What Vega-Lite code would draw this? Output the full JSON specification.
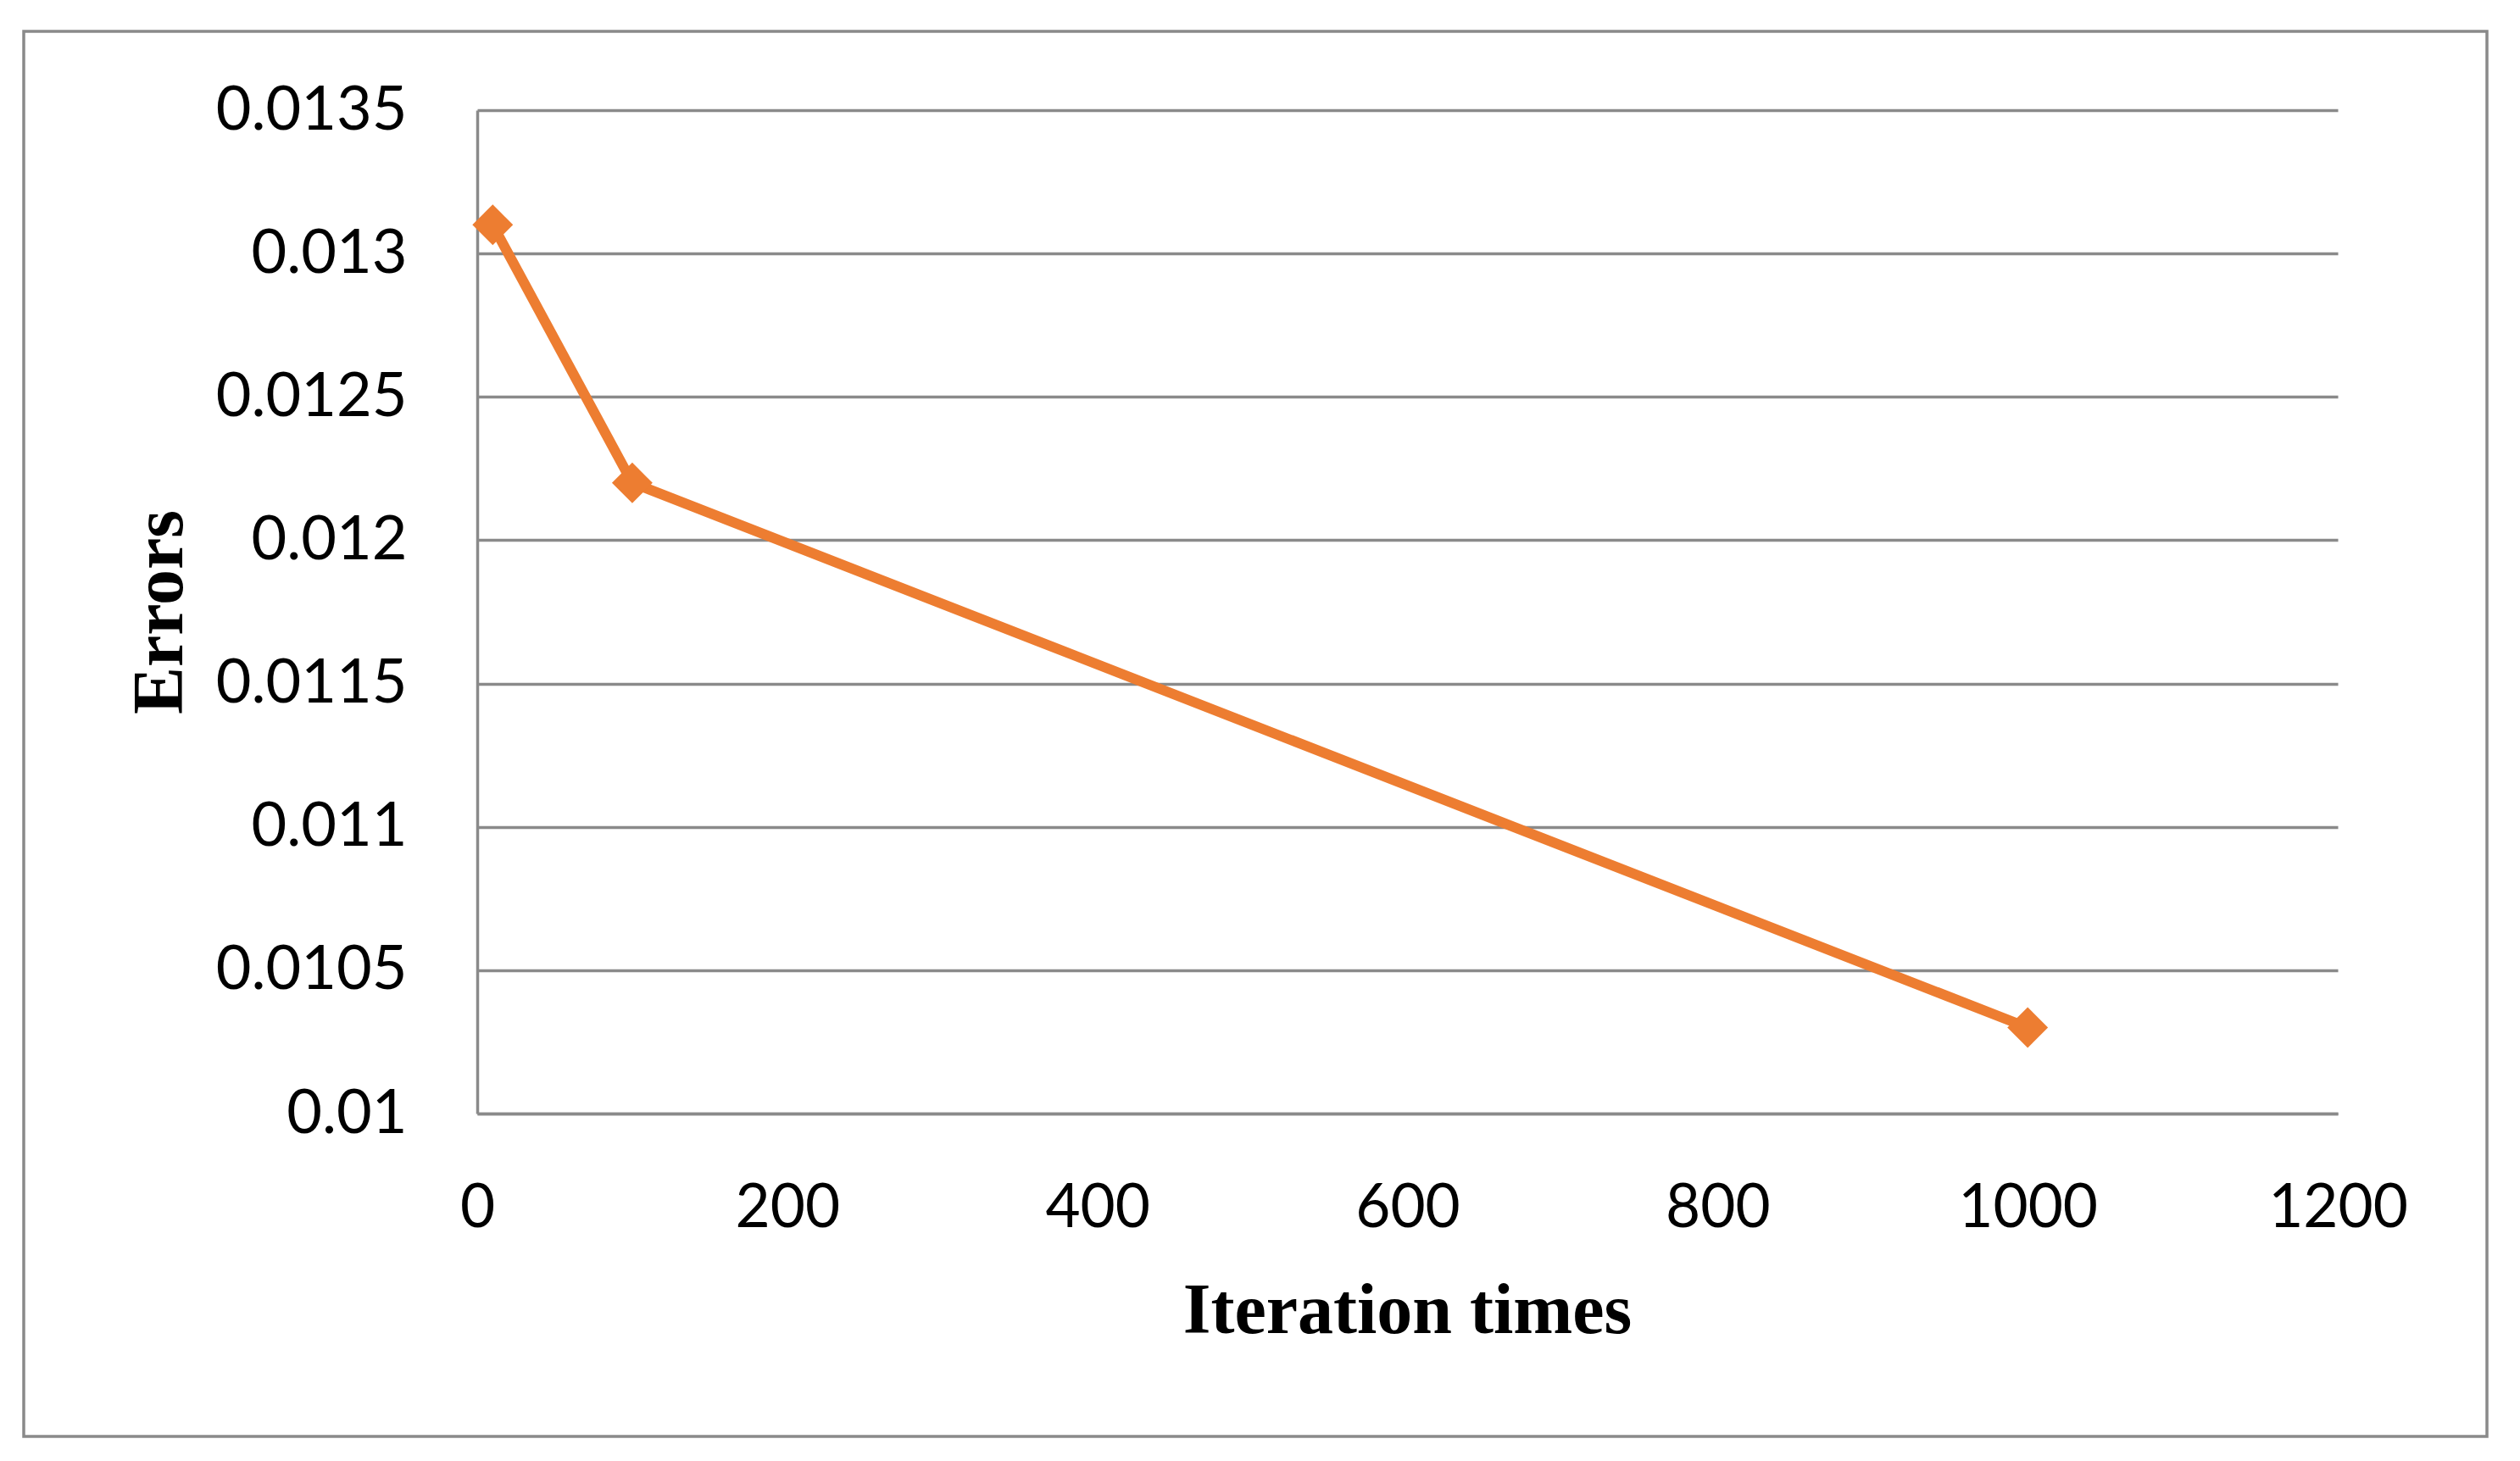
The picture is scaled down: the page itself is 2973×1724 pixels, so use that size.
{
  "$schema": "https://vega.github.io/schema/vega-lite/v6.json",
  "width": 2906,
  "height": 1658,
  "autosize": "none",
  "padding": {"left": 28, "top": 37, "right": 39, "bottom": 29},
  "background": "white",
  "config": {
    "view": {"stroke": "#8a8a8a", "strokeWidth": 3.5},
    "font": "Lato"
  },
  "data": {
    "values": [
      {"iter": 10, "error": 0.0131},
      {"iter": 100, "error": 0.0122},
      {"iter": 1000, "error": 0.0103}
    ]
  },
  "encoding": {
    "x": {
      "field": "iter",
      "type": "quantitative",
      "scale": {"domain": [0, 1200], "range": [535, 2730], "nice": false, "zero": false},
      "axis": {
        "orient": "bottom",
        "offset": -381,
        "values": [0, 200, 400, 600, 800, 1000, 1200],
        "format": "d",
        "grid": false,
        "ticks": false,
        "domain": true,
        "domainColor": "#8a8a8a",
        "domainWidth": 3.5,
        "labelFont": "Lato",
        "labelFontSize": 71,
        "labelColor": "black",
        "labelPadding": 77,
        "labelLimit": 0,
        "labelFlush": false,
        "labelOverlap": false,
        "title": "Iteration times",
        "titleFont": "Liberation Serif",
        "titleFontSize": 84,
        "titleFontWeight": "bold",
        "titleColor": "black",
        "titleX": 1632,
        "titleY": 258,
        "titleAlign": "center",
        "titleBaseline": "alphabetic"
      }
    },
    "y": {
      "field": "error",
      "type": "quantitative",
      "scale": {"domain": [0.01, 0.0135], "range": [1277, 93], "nice": false, "zero": false},
      "axis": {
        "orient": "left",
        "offset": -535,
        "values": [0.01, 0.0105, 0.011, 0.0115, 0.012, 0.0125, 0.013, 0.0135],
        "format": "~f",
        "grid": true,
        "gridColor": "#8a8a8a",
        "gridWidth": 3.5,
        "gridOpacity": 1,
        "ticks": false,
        "domain": true,
        "domainColor": "#8a8a8a",
        "domainWidth": 3.5,
        "labelFont": "Lato",
        "labelFontSize": 72,
        "labelColor": "black",
        "labelPadding": 83,
        "labelLimit": 0,
        "labelFlush": false,
        "labelOverlap": false,
        "title": "Errors",
        "titleFont": "Liberation Serif",
        "titleFontSize": 84,
        "titleFontWeight": "bold",
        "titleColor": "black",
        "titleAngle": 270,
        "titleX": -349,
        "titleY": 685,
        "titleAlign": "center",
        "titleBaseline": "alphabetic"
      }
    }
  },
  "layer": [
    {
      "mark": {"type": "line", "color": "#ED7D31", "strokeWidth": 12, "strokeJoin": "round"}
    },
    {
      "mark": {"type": "point", "shape": "diamond", "filled": true, "size": 2300, "color": "#ED7D31", "opacity": 1}
    }
  ]
}
